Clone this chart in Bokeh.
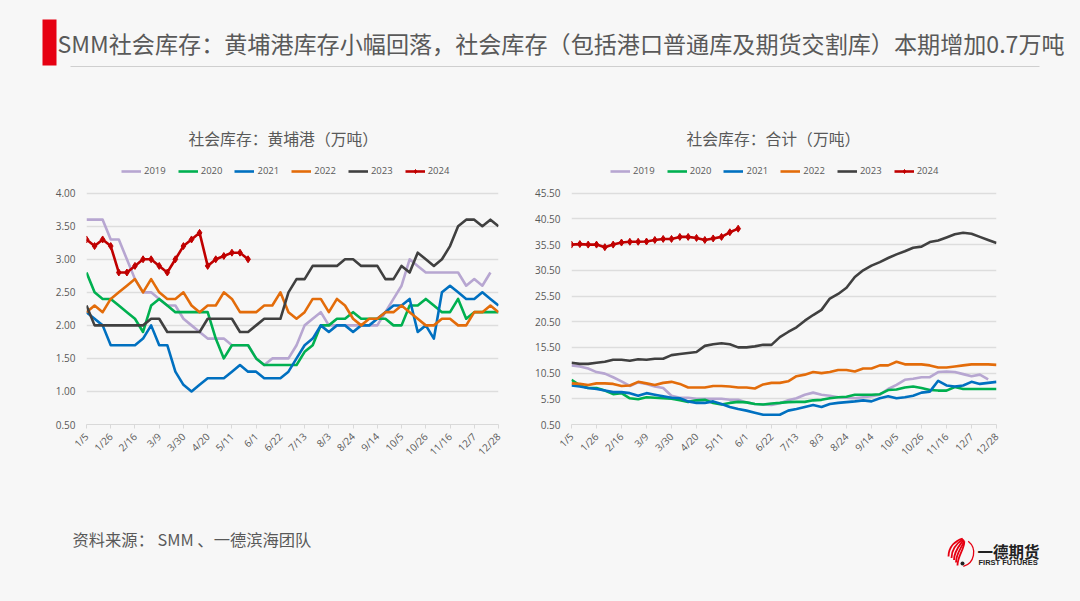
from bokeh.plotting import figure
from bokeh.layouts import column, row
from bokeh.models import FixedTicker, Legend, LegendItem, Title, Range1d, NumeralTickFormatter
from bokeh.core.properties import value
from bokeh.embed import file_html
from bokeh.resources import INLINE

BG = "#f7f7f7"
FONT = "Noto Sans CJK SC"
LATIN = "Open Sans"

headline = "SMM社会库存：黄埔港库存小幅回落，社会库存（包括港口普通库及期货交割库）本期增加0.7万吨"
source = "资料来源：   SMM 、一德滨海团队"
title_left = "社会库存：黄埔港（万吨）"
title_right = "社会库存：合计（万吨）"

tick_labels = ["1/5","1/26","2/16","3/9","3/30","4/20","5/11","6/1","6/22","7/13","8/3","8/24","9/14","10/5","10/26","11/16","12/7","12/28"]
years = ["2019","2020","2021","2022","2023","2024"]
colors = ["#B7A6D1","#00B050","#0070C0","#E36C0A","#404040","#C00000"]

hp_2019 = [3.6,3.6,3.6,3.3,3.3,3.0,2.7,2.5,2.5,2.4,2.3,2.3,2.1,2.0,1.9,1.8,1.8,1.8,1.7,1.7,1.7,1.5,1.4,1.5,1.5,1.5,1.7,2.0,2.1,2.2,2.0,2.0,2.0,2.0,2.0,2.0,2.0,2.2,2.4,2.6,3.0,2.9,2.8,2.8,2.8,2.8,2.8,2.6,2.7,2.6,2.8]
hp_2020 = [2.8,2.5,2.4,2.4,2.3,2.2,2.1,1.9,2.3,2.4,2.3,2.2,2.2,2.2,2.2,2.2,1.8,1.5,1.7,1.7,1.7,1.5,1.4,1.4,1.4,1.4,1.4,1.6,1.7,2.0,2.0,2.1,2.1,2.2,2.1,2.1,2.1,2.1,2.0,2.0,2.3,2.3,2.4,2.3,2.2,2.2,2.4,2.1,2.2,2.2,2.2,2.2]
hp_2021 = [2.2,2.1,2.0,1.7,1.7,1.7,1.7,1.8,2.0,1.7,1.7,1.3,1.1,1.0,1.1,1.2,1.2,1.2,1.3,1.4,1.3,1.3,1.2,1.2,1.2,1.3,1.5,1.7,1.8,2.0,1.9,2.0,2.0,1.9,2.0,2.0,2.1,2.2,2.3,2.3,2.4,1.9,2.0,1.8,2.5,2.6,2.5,2.4,2.4,2.5,2.4,2.3]
hp_2022 = [2.2,2.3,2.2,2.4,2.5,2.6,2.7,2.5,2.7,2.5,2.4,2.4,2.5,2.3,2.2,2.3,2.3,2.5,2.4,2.2,2.2,2.2,2.3,2.3,2.5,2.2,2.1,2.2,2.4,2.4,2.2,2.4,2.3,2.1,2.0,2.1,2.1,2.2,2.2,2.3,2.2,2.1,2.0,2.0,2.1,2.1,2.0,2.0,2.2,2.2,2.3,2.2]
hp_2023 = [2.3,2.0,2.0,2.0,2.0,2.0,2.0,2.0,2.1,2.1,1.9,1.9,1.9,1.9,1.9,2.1,2.1,2.1,2.1,1.9,1.9,2.0,2.1,2.1,2.1,2.5,2.7,2.7,2.9,2.9,2.9,2.9,3.0,3.0,2.9,2.9,2.9,2.7,2.7,2.9,2.8,3.1,3.0,2.9,3.0,3.2,3.5,3.6,3.6,3.5,3.6,3.5]
hp_2024 = [3.3,3.2,3.3,3.2,2.8,2.8,2.9,3.0,3.0,2.9,2.8,3.0,3.2,3.3,3.4,2.9,3.0,3.05,3.1,3.1,3.0]

tot_2019 = [12.0,11.8,11.4,10.7,10.4,9.7,8.9,8.0,8.7,8.4,7.9,7.6,6.1,5.7,5.7,5.5,5.5,5.5,5.5,5.3,5.3,4.8,4.5,4.4,4.3,4.65,5.2,5.6,6.3,6.7,6.3,6.1,5.8,5.7,5.6,5.8,6.0,6.3,7.4,8.2,9.2,9.4,9.7,9.7,10.7,10.8,10.7,10.3,9.9,10.2,9.3]
tot_2020 = [9.2,8.1,7.6,7.6,7.1,6.4,6.6,5.6,5.4,5.8,5.7,5.6,5.5,5.2,4.9,5.2,5.3,4.7,4.4,4.7,4.9,4.8,4.5,4.4,4.6,4.7,4.85,4.9,4.9,5.2,5.3,5.6,5.8,5.9,6.3,6.3,6.3,6.4,7.2,7.3,7.7,7.9,7.6,7.2,7.1,7.1,7.8,7.4,7.4,7.4,7.4,7.4]
tot_2021 = [8.1,7.9,7.6,7.4,7.1,6.8,6.8,6.6,6.1,6.6,6.3,6.0,5.7,5.6,5.0,4.7,4.7,5.0,4.5,3.9,3.5,3.2,2.8,2.4,2.4,2.4,3.2,3.5,3.9,4.3,3.9,4.5,4.7,4.85,5.0,5.2,5.0,5.6,6.0,5.6,5.8,6.1,6.7,6.9,9.0,8.1,7.9,8.1,8.8,8.4,8.6,8.8]
tot_2022 = [8.5,8.4,8.2,8.5,8.5,8.4,8.0,8.1,8.8,8.5,8.2,8.6,8.8,8.4,7.7,7.7,7.7,8.0,8.0,7.9,7.7,7.7,7.5,8.3,8.6,8.6,8.9,9.9,10.2,10.7,10.5,10.7,11.1,11.1,10.8,11.4,11.4,12.0,12.0,12.7,12.2,12.2,12.2,12.0,11.6,11.6,11.8,12.0,12.2,12.2,12.2,12.1]
tot_2023 = [12.5,12.3,12.3,12.5,12.7,13.1,13.1,12.9,13.2,13.1,13.3,13.3,14.0,14.2,14.4,14.6,15.8,16.1,16.3,16.1,15.5,15.5,15.7,16.0,16.0,17.5,18.5,19.4,20.7,21.8,22.8,25.0,25.9,27.1,29.2,30.5,31.4,32.1,32.9,33.6,34.2,34.9,35.1,36.0,36.3,36.9,37.5,37.8,37.6,37.0,36.4,35.8]
tot_2024 = [35.5,35.6,35.5,35.5,35.0,35.5,35.9,36.05,36.05,36.1,36.4,36.6,36.6,37.0,37.0,36.8,36.4,36.7,37.0,37.9,38.6]

hp_series = [hp_2019,hp_2020,hp_2021,hp_2022,hp_2023,hp_2024]
tot_series = [tot_2019,tot_2020,tot_2021,tot_2022,tot_2023,tot_2024]
tick_idx = [i*3 for i in range(len(tick_labels))]

GRID_PX = 233      # plot height between the lowest and highest gridline
HEADROOM_PX = 40   # free frame space above the highest gridline, holds the legend


def panel(series, ttl, ymin, ymax, ystep, w, bl, br, title_off, legend_x):
    extra = (ymax - ymin) * HEADROOM_PX / GRID_PX
    p = figure(width=w, height=360, output_backend="svg", toolbar_location=None,
               x_range=Range1d(0, 51), y_range=Range1d(ymin, ymax + extra),
               background_fill_color=BG, border_fill_color=BG,
               min_border_left=bl, min_border_right=br,
               min_border_top=360 - 56 - GRID_PX - HEADROOM_PX, min_border_bottom=56)
    p.outline_line_color = None
    p.xgrid.visible = False
    yticks = [ymin + ystep*i for i in range(int(round((ymax-ymin)/ystep))+1)]
    p.ygrid.grid_line_color = "#dddddd"
    p.ygrid.grid_line_width = 1.3
    p.ygrid.ticker = FixedTicker(ticks=yticks)
    p.yaxis.ticker = FixedTicker(ticks=yticks)
    p.yaxis.formatter = NumeralTickFormatter(format="0.00")
    p.yaxis.axis_line_color = None
    p.yaxis.major_tick_line_color = None
    p.yaxis.major_tick_in = 0
    p.yaxis.major_tick_out = 0
    p.yaxis.minor_tick_line_color = None
    p.yaxis.minor_tick_out = 0
    p.yaxis.major_label_text_font = LATIN
    p.yaxis.major_label_text_font_size = "10px"
    p.yaxis.major_label_text_color = "#595959"
    p.yaxis.major_label_standoff = 11
    p.xaxis.ticker = FixedTicker(ticks=tick_idx)
    p.xaxis.major_label_overrides = dict(zip(tick_idx, tick_labels))
    p.xaxis.major_label_orientation = 0.785
    p.xaxis.major_label_text_font = LATIN
    p.xaxis.major_label_text_font_size = "10px"
    p.xaxis.major_label_text_color = "#595959"
    p.xaxis.major_label_standoff = 6
    p.xaxis.axis_line_color = "#d9d9d9"
    p.xaxis.major_tick_line_color = "#d9d9d9"
    p.xaxis.major_tick_in = 0
    p.xaxis.major_tick_out = 4
    p.xaxis.minor_tick_line_color = None

    items = []
    for name, col, vals in zip(years, colors, series):
        xs = list(range(len(vals)))
        r = [p.line(xs, vals, line_color=col, line_width=2.6, line_join="round")]
        if name == "2024":
            r.append(p.scatter(xs, vals, marker="diamond", size=7, fill_color=col, line_color=col))
        items.append(LegendItem(label=name, renderers=r))
    lg = Legend(items=items, orientation="horizontal", location=(legend_x, GRID_PX + 14),
                background_fill_alpha=0, border_line_color=None,
                glyph_width=20, glyph_height=10, label_standoff=3, spacing=12, padding=0, margin=0,
                label_text_font=LATIN, label_text_font_size="9.5px", label_text_color="#595959")
    p.add_layout(lg, "center")
    t = Title(text=ttl, align="left", offset=title_off, text_font=FONT, text_font_size="15.8px",
              text_font_style="normal", text_color="#595959", standoff=8)
    p.add_layout(t, "above")
    return p


def canvas(h, top):
    p = figure(width=1080, height=h, output_backend="svg", toolbar_location=None,
               x_range=Range1d(0, 1080), y_range=Range1d(top+h, top),
               background_fill_color=BG, border_fill_color=BG, min_border=0)
    p.axis.visible = False
    p.grid.visible = False
    p.outline_line_color = None
    return p


head = canvas(120, 0)
head.quad(left=42, right=56, top=19, bottom=65, fill_color="#E60012", line_color=None)
head.segment(70, 66, 1039, 66, line_color="#cfcfcf", line_width=1.2)
head.text(57, 42, text=[headline], text_font=value(FONT), text_font_size="23.1px",
          text_color="#595959", text_baseline="middle", text_align="left")

left = panel(hp_series, title_left, 0.5, 4.0, 0.5, 532, 86, 34, 102, 35)
right = panel(tot_series, title_right, 0.5, 45.5, 5.0, 548, 37, 84, 115, 39)

foot = canvas(121, 480)
foot.text(72, 538, text=[source], text_font=value(FONT), text_font_size="16.3px",
          text_color="#595959", text_baseline="middle")
RED = "#E60012"
foot.arc(958.7, 552, radius=14.5, start_angle=0.9, end_angle=5.0, line_color=RED, line_width=1.3,
         direction="clock")
for dx, dy in [(0, 0), (3, 1.5), (5.5, 3.5), (7.5, 6), (9, 9)]:
    foot.bezier(x0=948+dx, y0=556+dy, x1=962+dx*0.2, y1=538+dy*0.3,
                cx0=948+dx, cy0=546+dy, cx1=955+dx, cy1=540+dy,
                line_color=RED, line_width=1.8)
foot.scatter([962], [563], size=4, fill_color="#222222", line_color=None)
foot.text(977, 550.5, text=["一德期货"], text_font=value(FONT), text_font_size="15.5px",
          text_font_style="bold", text_color="#222222", text_baseline="middle")
foot.text(978, 562, text=["FIRST FUTURES"], text_font=value("Liberation Sans"), text_font_size="7.5px",
          text_font_style="bold", text_color="#222222", text_baseline="middle")

layout = column(head, row(left, right, spacing=0), foot, spacing=0)
html = file_html(layout, INLINE)
html = html.replace("</head>", "<style>html,body{background:%s;margin:0;padding:0;overflow:hidden}</style></head>" % BG, 1)
open("out.html", "w").write(html)
